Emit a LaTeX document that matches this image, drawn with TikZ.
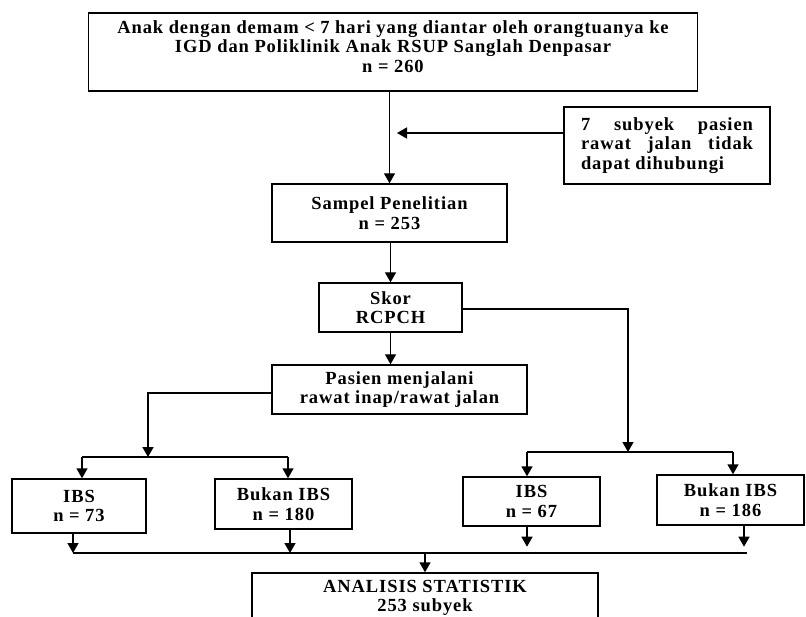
\documentclass[tikz,border=0pt]{standalone}
\usepackage{fontspec}
\setmainfont{Liberation Serif}[LetterSpace=5]
\usepackage{tikz}
\usetikzlibrary{arrows.meta, positioning}

\begin{document}
\begin{tikzpicture}[x=1pt, y=-1pt,
  box/.style={draw, line width=1.4pt, align=center, inner sep=0pt,
    font=\bfseries\fontsize{18.5}{19.5}\selectfont},
  link/.style={line width=1.4pt},
  arr/.style={line width=1.4pt, -{Triangle[width=11pt, length=10pt]}}]
  \useasboundingbox (0,0) rectangle (806,617);
  \clip (0,0) rectangle (806,617);

  % Population
  \node[box, minimum width=609, minimum height=78] (anak) at (393,52) {
    Anak dengan demam < 7 hari yang diantar oleh orangtuanya ke\\
    IGD dan Poliklinik Anak RSUP Sanglah Denpasar\\
    n = 260\\[-8pt]
  };

  % Excluded subjects
  \node[box, minimum width=206, minimum height=77, text width=172, align=justify] (drop) at (667,145.5) {
    7 subyek pasien\linebreak rawat jalan tidak\linebreak dapat dihubungi
  };
  \coordinate (dropend) at (397,133);

  % Sample and scoring
  \node[box, minimum width=235, minimum height=58] (sampel) at (389.5,213) {Sampel Penelitian\\ n = 253};
  \node[box, minimum width=143, minimum height=49] (skor) at (390.5,307.5) {Skor\\ RCPCH};
  \node[box, minimum width=255, minimum height=49] (pasien) at (399.5,389.5) {Pasien menjalani\\ rawat inap/rawat jalan};

  % Groups
  \node[box, minimum width=134, minimum height=54] (ibsA) at (79,506) {IBS\\ n = 73};
  \node[box, minimum width=137, minimum height=50] (bukanA) at (283.5,504) {Bukan IBS\\ n = 180};
  \node[box, minimum width=137, minimum height=49] (ibsB) at (531.5,501.5) {IBS\\ n = 67};
  \node[box, minimum width=147, minimum height=50] (bukanB) at (730.5,500) {Bukan IBS\\ n = 186};

  % Analysis
  \node[box, minimum width=346, minimum height=50] (analisis) at (425,598) {ANALISIS STATISTIK\\ 253 subyek};

  % Split and merge points
  \coordinate (lsplit) at (148,457);
  \coordinate (rsplit) at (628,452);
  \coordinate (mergeL) at (73,553);
  \coordinate (mergeR) at (747,553);

  % Main flow
  \draw[arr] (sampel.north |- anak.south) -- (sampel.north);
  \draw[arr] ([yshift=12.5pt]drop.west) -- (dropend);
  \draw[arr] (sampel.south -| skor.north) -- (skor.north);
  \draw[arr] (skor.south) -- (skor.south |- pasien.north);

  % Left branch
  \draw[arr] ([yshift=-3.5pt]pasien.west) -| (lsplit);
  \draw[link] ([xshift=3pt]ibsA.north |- lsplit) -- ([xshift=4.5pt]bukanA.north |- lsplit);
  \draw[arr] ([xshift=3pt]ibsA.north |- lsplit) -- ([xshift=3pt]ibsA.north);
  \draw[arr] ([xshift=4.5pt]bukanA.north |- lsplit) -- ([xshift=4.5pt]bukanA.north);

  % Right branch
  \draw[arr] ([yshift=-1.5pt]skor.east) -| (rsplit);
  \draw[link] ([xshift=-4.5pt]ibsB.north |- rsplit) -- ([xshift=2.5pt]bukanB.north |- rsplit);
  \draw[arr] ([xshift=-4.5pt]ibsB.north |- rsplit) -- ([xshift=-4.5pt]ibsB.north);
  \draw[arr] ([xshift=2.5pt]bukanB.north |- rsplit) -- ([xshift=2.5pt]bukanB.north);

  % Merge
  \draw[arr] (ibsA.south -| mergeL) -- (mergeL);
  \draw[arr] ([xshift=6.5pt]bukanA.south) -- ([xshift=6.5pt]bukanA.south |- mergeL);
  \draw[arr] ([xshift=-4.5pt]ibsB.south) -- ++(0,20);
  \draw[arr] ([xshift=13.5pt]bukanB.south) -- ++(0,21);
  \draw[link] (mergeL) -- (mergeR);
  \draw[arr] (analisis.north |- mergeL) -- (analisis.north);
\end{tikzpicture}
\end{document}
